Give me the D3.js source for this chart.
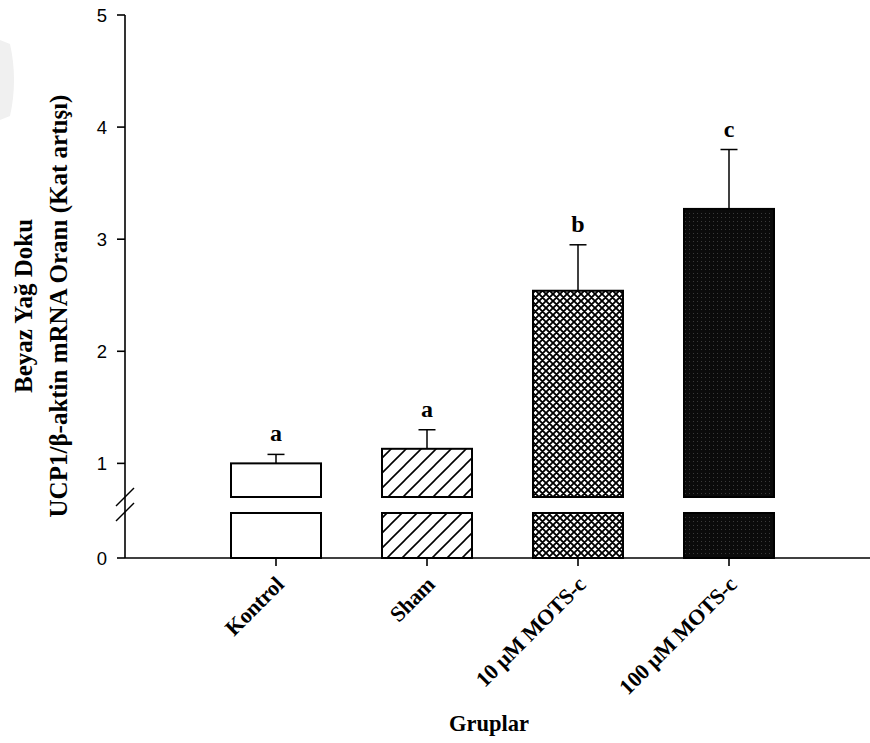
<!DOCTYPE html>
<html>
<head>
<meta charset="utf-8">
<script src="https://cdn.jsdelivr.net/npm/d3@7"></script>
<style>
  html, body { margin: 0; padding: 0; background: #fff; }
  svg { display: block; }
</style>
</head>
<body>
<svg id="chart" width="870" height="743"></svg>
<script>
// Group names, means, upper error values and significance letters
const groups = ["Kontrol", "Sham", "10 µM MOTS-c", "100 µM MOTS-c"];
const means = [1.00, 1.13, 2.54, 3.27];
const errors = [0.08, 0.17, 0.41, 0.53];
const letters = ["a", "a", "b", "c"];
const upperTicks = [1, 2, 3, 4, 5];
const lowerTicks = [0];
const patterns = ["none", "diag", "cross", "dense"];

const svg = d3.select("#chart");
const defs = svg.append("defs");

// Fill patterns
const diag = defs.append("pattern").attr("id", "diag")
  .attr("patternUnits", "userSpaceOnUse").attr("width", 15).attr("height", 15);
diag.append("rect").attr("width", 15).attr("height", 15).attr("fill", "#fff");
diag.append("path").attr("d", "M-4,4 L4,-4 M0,15 L15,0 M11,19 L19,11")
  .attr("stroke", "#000").attr("stroke-width", 1.6);

const cross = defs.append("pattern").attr("id", "cross")
  .attr("patternUnits", "userSpaceOnUse").attr("width", 7).attr("height", 7);
cross.append("rect").attr("width", 7).attr("height", 7).attr("fill", "#fff");
cross.append("path").attr("d", "M-2,2 L2,-2 M0,7 L7,0 M5,9 L9,5 M-2,5 L2,9 M0,0 L7,7 M5,-2 L9,2")
  .attr("stroke", "#000").attr("stroke-width", 1.9);

const dense = defs.append("pattern").attr("id", "dense")
  .attr("patternUnits", "userSpaceOnUse").attr("width", 4).attr("height", 4);
dense.append("rect").attr("width", 4).attr("height", 4).attr("fill", "#0b0b0b");
dense.append("rect").attr("x", 1).attr("y", 1).attr("width", 1).attr("height", 1).attr("fill", "#3a3a3a");

const fillFor = p => p === "none" ? "#fff" : `url(#${p})`;

// faint mark near the top-left corner
svg.append("path")
  .attr("d", "M0,40 L10,44 Q18,80 10,116 L0,120 Z")
  .attr("fill", "#f0f0f0");

// Scales: broken y axis with an upper and a lower segment
const breakLow = 0.4, breakHigh = 0.7;
const yUpper = d3.scaleLinear().domain([breakHigh, 5]).range([497, 15]);
const yLower = d3.scaleLinear().domain([0, breakLow]).range([558, 513]);
const x = d3.scalePoint().domain(groups).range([125, 880]).padding(1);
const barW = 90;
const axisX = 125, axisY = yLower(0);
const serif = "Liberation Serif, Times New Roman, serif";

// Bars: lower and upper pieces
const g = svg.append("g");
groups.forEach((grp, i) => {
  const cx = x(grp);
  const v = means[i];
  const fill = fillFor(patterns[i]);
  g.append("rect")
    .attr("x", cx - barW / 2).attr("width", barW)
    .attr("y", yLower(Math.min(v, breakLow)))
    .attr("height", yLower(0) - yLower(Math.min(v, breakLow)))
    .attr("fill", fill).attr("stroke", "#000").attr("stroke-width", 2);
  if (v > breakHigh) {
    g.append("rect")
      .attr("x", cx - barW / 2).attr("width", barW)
      .attr("y", yUpper(v))
      .attr("height", yUpper(breakHigh) - yUpper(v))
      .attr("fill", fill).attr("stroke", "#000").attr("stroke-width", 2);
  }
  // error bar (upper only)
  const top = yUpper(v + errors[i]);
  g.append("line").attr("x1", cx).attr("x2", cx)
    .attr("y1", yUpper(v)).attr("y2", top)
    .attr("stroke", "#000").attr("stroke-width", 1.5);
  g.append("line").attr("x1", cx - 8.5).attr("x2", cx + 8.5)
    .attr("y1", top).attr("y2", top)
    .attr("stroke", "#000").attr("stroke-width", 1.5);
  // significance letter
  g.append("text").attr("x", cx).attr("y", top - 13)
    .attr("text-anchor", "middle")
    .attr("font-family", serif)
    .attr("font-weight", "bold").attr("font-size", 24)
    .text(letters[i]);
});

// Y axis line (continuous through the break)
svg.append("line").attr("x1", axisX).attr("x2", axisX)
  .attr("y1", yUpper(5)).attr("y2", axisY)
  .attr("stroke", "#000").attr("stroke-width", 1.6);

// Y ticks and labels
const tickFont = "Liberation Sans, Arial, sans-serif";
const yt = svg.append("g");
const drawTick = (yy, t) => {
  yt.append("line").attr("x1", axisX - 8).attr("x2", axisX)
    .attr("y1", yy).attr("y2", yy)
    .attr("stroke", "#000").attr("stroke-width", 1.6);
  yt.append("text").attr("x", axisX - 18).attr("y", yy)
    .attr("dy", "0.36em").attr("text-anchor", "end")
    .attr("font-family", tickFont).attr("font-size", 18.5).text(t);
};
upperTicks.forEach(t => drawTick(yUpper(t), t));
lowerTicks.forEach(t => drawTick(yLower(t), t));

// Axis break marks
const bMid = (yUpper(breakHigh) + yLower(breakLow)) / 2;
[-8, 7].forEach(off => {
  svg.append("line")
    .attr("x1", axisX - 9).attr("y1", bMid + off + 9)
    .attr("x2", axisX + 9).attr("y2", bMid + off - 9)
    .attr("stroke", "#000").attr("stroke-width", 1.4);
});

// X axis line and ticks
svg.append("line").attr("x1", axisX).attr("x2", 870)
  .attr("y1", axisY).attr("y2", axisY)
  .attr("stroke", "#000").attr("stroke-width", 1.6);
groups.forEach(grp => {
  svg.append("line").attr("x1", x(grp)).attr("x2", x(grp))
    .attr("y1", axisY).attr("y2", axisY + 8)
    .attr("stroke", "#000").attr("stroke-width", 1.6);
  svg.append("text")
    .attr("transform", `translate(${x(grp) + 9},${axisY + 28}) rotate(-45)`)
    .attr("text-anchor", "end")
    .attr("font-family", serif)
    .attr("font-weight", "bold").attr("font-size", 22)
    .attr("letter-spacing", -0.3)
    .text(grp);
});

// Axis titles
svg.append("text").attr("x", 489).attr("y", 731)
  .attr("text-anchor", "middle").attr("font-family", serif)
  .attr("font-weight", "bold").attr("font-size", 22.5).text("Gruplar");

const yTitle = svg.append("text")
  .attr("transform", "translate(0,306) rotate(-90)")
  .attr("text-anchor", "middle").attr("font-family", serif)
  .attr("font-weight", "bold").attr("font-size", 25);
yTitle.append("tspan").attr("x", 0).attr("y", 32).text("Beyaz Yağ Doku");
yTitle.append("tspan").attr("x", 0).attr("y", 67).text("UCP1/β-aktin mRNA Oranı (Kat artışı)");
</script>
</body>
</html>
